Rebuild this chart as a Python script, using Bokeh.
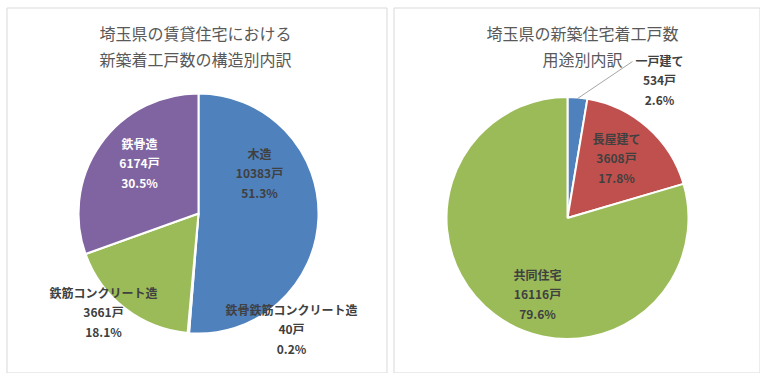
import math
from bokeh.plotting import figure
from bokeh.models import Range1d, ColumnDataSource
from bokeh.core.properties import value
from bokeh.embed import file_html
from bokeh.resources import INLINE

# ---- data ----
left_title = ["埼玉県の賃貸住宅における", "新築着工戸数の構造別内訳"]
left_categories = ["木造", "鉄骨鉄筋コンクリート造", "鉄筋コンクリート造", "鉄骨造"]
left_values = [10383, 40, 3661, 6174]

right_title = ["埼玉県の新築住宅着工戸数", "用途別内訳"]
right_categories = ["一戸建て", "長屋建て", "共同住宅"]
right_values = [534, 3608, 16116]

# ---- style / layout ----
left_colors = ["#4F81BD", "#C0504D", "#9BBB59", "#8064A2"]
right_colors = ["#4F81BD", "#C0504D", "#9BBB59"]
left_label_xy = [(259, 172), (291, 328), (103, 311), (139, 162)]
left_label_colors = ["#404040", "#404040", "#404040", "#FFFFFF"]
right_label_xy = [(659, 79), (616, 157), (537, 293)]
right_label_colors = ["#404040", "#404040", "#404040"]
FONT = "Noto Sans CJK JP"
W, H = 760, 373


def sy(y):
    # reference y (from top) -> data y
    return H - y


p = figure(width=W, height=H, x_range=Range1d(0, W), y_range=Range1d(0, H),
           output_backend="svg", toolbar_location=None, min_border=0)
p.axis.visible = False
p.grid.visible = False
p.outline_line_color = None
p.background_fill_color = "white"
p.border_fill_color = "white"

# panel borders
for (x0, x1) in [(6.5, 386.5), (393.5, 770.5)]:
    p.quad(left=x0, right=min(x1, W - 0.5), bottom=max(sy(383.5), 0.5), top=sy(7.5),
           fill_color=None, line_color="#D9D9D9", line_width=1)


def draw_pie(cx, cy, r, values, colors, cats, label_xy, label_colors):
    total = sum(values)
    starts, ends = [], []
    cum = 0.0
    for v in values:
        starts.append(math.pi / 2 - 2 * math.pi * cum / total)
        cum += v
        ends.append(math.pi / 2 - 2 * math.pi * cum / total)
    src = ColumnDataSource(dict(x=[cx] * len(values), y=[sy(cy)] * len(values),
                                start=starts, end=ends, color=colors))
    p.wedge(x="x", y="y", radius=r, radius_units="screen", start_angle="start",
            end_angle="end", direction="clock", fill_color="color",
            line_color="white", line_width=2, source=src)
    for cat, v, (lx, ly), col in zip(cats, values, label_xy, label_colors):
        pct = 100.0 * v / total
        lines = [cat, f"{v}戸", f"{pct:.1f}%"]
        for i, t in enumerate(lines):
            p.text(x=[lx], y=[sy(ly + (i - 1) * 19.5)], text=[t], text_align="center",
                   text_baseline="middle", text_font=value(FONT), text_font_size="12px",
                   text_font_style="bold", text_color=col)


draw_pie(198, 213, 120, left_values, left_colors, left_categories, left_label_xy, left_label_colors)
draw_pie(567, 217.5, 121, right_values, right_colors, right_categories, right_label_xy, right_label_colors)

# leader line for the small slice on the right
p.line(x=[577, 632], y=[sy(98), sy(61)], line_color="#A6A6A6", line_width=1)

# titles
for i, t in enumerate(left_title):
    p.text(x=[195], y=[sy(32 + i * 26)], text=[t], text_align="center", text_baseline="middle",
           text_font=value(FONT), text_font_size="16px", text_color="#595959")
for i, t in enumerate(right_title):
    p.text(x=[582], y=[sy(32 + i * 26)], text=[t], text_align="center", text_baseline="middle",
           text_font=value(FONT), text_font_size="16px", text_color="#595959")

open("out.html", "w").write(file_html(p, INLINE))
